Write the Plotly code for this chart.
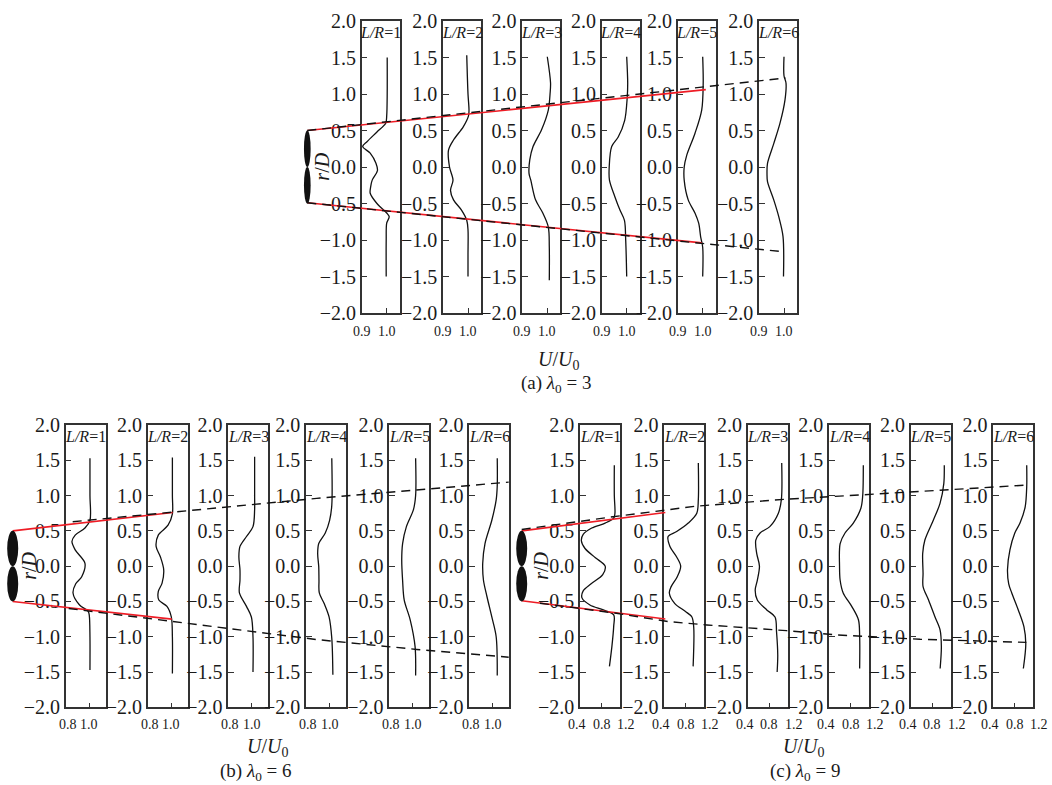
import plotly.graph_objects as go

# ---------------- data ----------------
LR_POSITIONS = [1, 2, 3, 4, 5, 6]
R_TICKS = [-2.0, -1.5, -1.0, -0.5, 0.0, 0.5, 1.0, 1.5, 2.0]
U_TICKS_A = [0.9, 1.0]
U_TICKS_B = [0.8, 1.0]
U_TICKS_C = [0.4, 0.8, 1.2]
TIP_SPEED_RATIO = [3, 6, 9]
ROTOR_TIP_R = 0.5

# (a) lambda0 = 3 : velocity profiles U/U0 vs r/D
a1_r = [1.5, 1.0, 0.7, 0.6, 0.48, 0.35, 0.28, 0.19, 0.05, -0.05, -0.18, -0.27, -0.36, -0.5, -0.63, -0.68, -0.77, -1.0, -1.5]
a1_u = [1.002, 1.002, 1.0, 0.996, 0.961, 0.922, 0.904, 0.934, 0.957, 0.963, 0.942, 0.936, 0.934, 0.961, 1.0, 1.010, 1.0, 0.998, 0.998]
a2_r = [1.53, 1.0, 0.78, 0.7, 0.55, 0.37, 0.23, 0.0, -0.18, -0.32, -0.45, -0.59, -0.73, -0.86, -1.2, -1.5]
a2_u = [0.995, 1.0, 1.004, 1.002, 0.981, 0.942, 0.922, 0.926, 0.940, 0.930, 0.942, 0.974, 0.995, 1.0, 1.0, 1.0]
a3_r = [1.51, 1.15, 1.0, 0.78, 0.51, 0.28, 0.1, -0.09, -0.18, -0.45, -0.63, -0.82, -1.1, -1.55]
a3_u = [1.0, 1.013, 1.011, 1.004, 0.977, 0.943, 0.930, 0.927, 0.934, 0.953, 0.982, 1.004, 1.008, 1.008]
a4_r = [1.51, 1.15, 0.95, 0.64, 0.41, 0.28, 0.0, -0.18, -0.41, -0.59, -0.73, -1.0, -1.5]
a4_u = [1.0, 1.004, 1.002, 0.992, 0.966, 0.940, 0.930, 0.931, 0.953, 0.973, 0.991, 0.996, 1.0]
a5_r = [1.51, 1.15, 0.78, 0.46, 0.16, 0.0, -0.18, -0.45, -0.63, -0.77, -0.96, -1.1, -1.5]
a5_u = [1.0, 1.002, 0.996, 0.969, 0.936, 0.926, 0.926, 0.942, 0.969, 0.984, 0.992, 1.0, 1.0]
a6_r = [1.51, 1.25, 1.15, 0.92, 0.6, 0.32, 0.05, -0.09, -0.2, -0.45, -0.68, -0.95, -1.5]
a6_u = [1.0, 1.0, 1.008, 1.004, 0.984, 0.959, 0.934, 0.932, 0.934, 0.959, 0.979, 0.996, 0.998]

# (b) lambda0 = 6
b1_r = [1.53, 1.0, 0.65, 0.54, 0.44, 0.35, 0.23, 0.04, -0.15, -0.25, -0.38, -0.55, -0.64, -0.7, -1.0, -1.47]
b1_u = [1.006, 1.006, 1.006, 0.96, 0.87, 0.84, 0.87, 0.96, 0.93, 0.875, 0.85, 0.91, 0.99, 1.0, 1.006, 1.006]
b2_r = [1.54, 1.0, 0.74, 0.58, 0.44, 0.28, 0.13, -0.05, -0.24, -0.36, -0.48, -0.57, -0.72, -1.0, -1.52]
b2_u = [1.01, 1.01, 1.01, 0.97, 0.88, 0.86, 0.9, 0.93, 0.915, 0.88, 0.885, 0.96, 1.0, 1.01, 1.01]
b3_r = [1.55, 1.0, 0.8, 0.56, 0.42, 0.28, 0.13, -0.05, -0.2, -0.38, -0.57, -0.72, -1.0, -1.5]
b3_u = [1.025, 1.025, 1.025, 1.01, 0.95, 0.89, 0.88, 0.89, 0.89, 0.885, 0.95, 0.995, 1.01, 1.01]
b4_r = [1.53, 0.86, 0.65, 0.47, 0.32, 0.18, -0.01, -0.2, -0.38, -0.53, -0.72, -1.02, -1.54]
b4_u = [1.02, 1.02, 1.0, 0.96, 0.9, 0.89, 0.9, 0.902, 0.905, 0.95, 0.995, 1.02, 1.03]
b5_r = [1.53, 1.0, 0.8, 0.56, 0.32, 0.09, -0.2, -0.48, -0.76, -1.14, -1.55]
b5_u = [1.025, 1.025, 1.005, 0.94, 0.905, 0.897, 0.905, 0.92, 0.975, 1.02, 1.025]
b6_r = [1.53, 1.14, 0.94, 0.65, 0.32, 0.04, -0.2, -0.43, -0.72, -1.0, -1.55]
b6_u = [1.04, 1.04, 1.03, 0.99, 0.927, 0.906, 0.913, 0.945, 0.99, 1.03, 1.04]

# (c) lambda0 = 9
c1_r = [1.43, 1.0, 0.75, 0.68, 0.61, 0.54, 0.45, 0.36, 0.25, 0.12, 0.0, -0.12, -0.25, -0.35, -0.45, -0.55, -0.62, -0.69, -0.85, -1.14, -1.42]
c1_u = [1.01, 1.01, 1.02, 1.0, 0.86, 0.64, 0.5, 0.47, 0.53, 0.70, 0.86, 0.82, 0.63, 0.5, 0.48, 0.61, 0.83, 1.0, 1.0, 0.97, 0.93]
c2_r = [1.46, 0.94, 0.75, 0.61, 0.49, 0.42, 0.28, 0.13, 0.0, -0.15, -0.29, -0.38, -0.53, -0.64, -0.72, -0.87, -1.42]
c2_u = [1.005, 1.005, 0.98, 0.84, 0.65, 0.51, 0.54, 0.65, 0.716, 0.66, 0.56, 0.53, 0.62, 0.79, 0.90, 0.93, 0.92]
c3_r = [1.46, 0.95, 0.75, 0.56, 0.47, 0.37, 0.18, 0.0, -0.2, -0.34, -0.48, -0.62, -0.72, -0.93, -1.26, -1.5]
c3_u = [1.005, 1.0, 0.95, 0.81, 0.65, 0.58, 0.595, 0.64, 0.605, 0.57, 0.605, 0.76, 0.895, 0.92, 0.94, 0.93]
c4_r = [1.43, 1.0, 0.82, 0.61, 0.47, 0.32, 0.0, -0.2, -0.38, -0.57, -0.76, -1.0, -1.45]
c4_u = [1.01, 1.0, 0.97, 0.846, 0.71, 0.63, 0.62, 0.63, 0.68, 0.82, 0.93, 0.95, 0.95]
c5_r = [1.43, 1.17, 0.89, 0.65, 0.37, 0.18, -0.1, -0.29, -0.48, -0.72, -0.9, -1.14, -1.45]
c5_u = [0.998, 0.99, 0.928, 0.818, 0.68, 0.644, 0.65, 0.65, 0.74, 0.846, 0.928, 0.95, 0.93]
c6_r = [1.43, 1.12, 0.84, 0.61, 0.47, 0.23, -0.05, -0.25, -0.38, -0.62, -0.86, -1.1, -1.45]
c6_u = [0.995, 0.995, 0.97, 0.885, 0.80, 0.72, 0.68, 0.70, 0.75, 0.857, 0.95, 0.98, 0.94]

# wake boundary lines: (L/R, r/D)
a_red_top_L = [0.0, 5.0];   a_red_top_r = [0.5, 1.06]
a_red_bot_L = [0.0, 4.95];  a_red_bot_r = [-0.49, -1.04]
a_dash_top_L = [0.0, 6.0];  a_dash_top_r = [0.5, 1.22]
a_dash_bot_L = [0.0, 5.96]; a_dash_bot_r = [-0.49, -1.16]

b_red_top_L = [0.0, 2.0];   b_red_top_r = [0.5, 0.76]
b_red_bot_L = [0.0, 1.99];  b_red_bot_r = [-0.5, -0.75]
b_dash_top_L = [0.75, 3.8, 6.2];  b_dash_top_r = [0.63, 0.96, 1.19]
b_dash_bot_L = [0.7, 2.2, 3.8, 5.05, 6.2]; b_dash_bot_r = [-0.6, -0.81, -1.04, -1.18, -1.29]

c_red_top_L = [0.0, 1.73];  c_red_top_r = [0.5, 0.76]
c_red_bot_L = [0.0, 1.73];  c_red_bot_r = [-0.49, -0.75]
c_dash_top_L = [0.0, 1.1, 2.1, 3.2, 4.1, 5.4, 6.1]
c_dash_top_r = [0.52, 0.70, 0.85, 0.95, 1.01, 1.10, 1.15]
c_dash_bot_L = [0.22, 1.14, 1.77, 2.23, 3.19, 3.8, 4.8, 6.08]
c_dash_bot_r = [-0.525, -0.668, -0.786, -0.833, -0.914, -0.975, -1.036, -1.08]

# ---------------- layout geometry (page pixels) ----------------
W, H = 1052, 785
FONT = "Liberation Serif"
INK = "#1a1a1a"
FRAME = "#333333"


def fx(px):
    return px / W


def fy(py):
    return 1 - py / H


GEOM = {
    "a": dict(lefts=[361.7, 443.0, 522.3, 601.7, 677.7, 759.0], width=38, top=21, bottom=313,
              urange=[0.9, 1.052], mid=1.0, tshift=-9, ov=(290, 810), x0=307.3, s=79.7, tw=0.042,
              rd_L=0.18, utitle=(558, 360), ptitle=(556, 384)),
    "b": dict(lefts=[65.7, 147.7, 228.3, 306.0, 389.3, 469.3], width=40, top=425, bottom=707.3,
              urange=[0.7825, 1.151], mid=1.0, tshift=-8, ov=(0, 520), x0=12.7, s=80.0, tw=0.069,
              rd_L=0.2, utitle=(267, 747), ptitle=(256, 772)),
    "c": dict(lefts=[580.0, 664.3, 747.7, 829.0, 910.7, 993.3], width=40, top=425, bottom=707.3,
              urange=[0.4475, 1.103], mid=0.8, tshift=-8, ov=(512, 1050), x0=521.7, s=83.0, tw=0.066,
              rd_L=0.24, utitle=(803, 747), ptitle=(805, 772)),
}

PANELS = [
    ("a", [(a1_u, a1_r), (a2_u, a2_r), (a3_u, a3_r), (a4_u, a4_r), (a5_u, a5_r), (a6_u, a6_r)], U_TICKS_A,
     [(a_red_top_L, a_red_top_r, "red"), (a_red_bot_L, a_red_bot_r, "red"),
      (a_dash_top_L, a_dash_top_r, "dash"), (a_dash_bot_L, a_dash_bot_r, "dash")]),
    ("b", [(b1_u, b1_r), (b2_u, b2_r), (b3_u, b3_r), (b4_u, b4_r), (b5_u, b5_r), (b6_u, b6_r)], U_TICKS_B,
     [(b_red_top_L, b_red_top_r, "red"), (b_red_bot_L, b_red_bot_r, "red"),
      (b_dash_top_L, b_dash_top_r, "dash"), (b_dash_bot_L, b_dash_bot_r, "dash")]),
    ("c", [(c1_u, c1_r), (c2_u, c2_r), (c3_u, c3_r), (c4_u, c4_r), (c5_u, c5_r), (c6_u, c6_r)], U_TICKS_C,
     [(c_red_top_L, c_red_top_r, "red"), (c_red_bot_L, c_red_bot_r, "red"),
      (c_dash_top_L, c_dash_top_r, "dash"), (c_dash_bot_L, c_dash_bot_r, "dash")]),
]


def sfx(i):
    return "" if i == 1 else str(i)


fig = go.Figure()
layout = {}
annotations = []
shapes = []

idx = 0
for p_i, (key, profiles, uticks, lines) in enumerate(PANELS):
    g = GEOM[key]
    ydom = [fy(g["bottom"]), fy(g["top"])]
    u0, u1 = g["urange"]
    for k, (u, r) in enumerate(profiles):
        idx += 1
        s = sfx(idx)
        left = g["lefts"][k]
        layout[f"xaxis{s}"] = dict(
            domain=[fx(left), fx(left + g["width"])], range=g["urange"], anchor=f"y{s}",
            showline=True, mirror=True, linecolor=FRAME, linewidth=1.5,
            ticks="inside", ticklen=5, tickwidth=1.2, tickcolor=FRAME,
            tickvals=[g["mid"]], showticklabels=False, showgrid=False, zeroline=False, fixedrange=True)
        layout[f"yaxis{s}"] = dict(
            domain=ydom, range=[-2, 2], anchor=f"x{s}",
            showline=True, mirror=True, linecolor=FRAME, linewidth=1.5,
            ticks="inside", ticklen=6, tickwidth=1.2, tickcolor=FRAME,
            tickvals=R_TICKS, tickformat=".1f", tickfont=dict(family=FONT, size=20, color=INK),
            showgrid=False, zeroline=False, fixedrange=True)
        fig.add_trace(go.Scatter(
            x=u, y=r, mode="lines", xaxis=f"x{s}", yaxis=f"y{s}",
            line=dict(color="#111111", width=1.3, shape="spline", smoothing=0.9),
            showlegend=False, hoverinfo="skip"))
        # U/U0 tick labels placed along the axis scale (edge labels may sit just past the frame)
        for t in uticks:
            annotations.append(dict(
                x=(t - u0) / (u1 - u0), y=0, xref=f"x{s} domain", yref=f"y{s} domain",
                text=f"{t:.1f}", showarrow=False, xanchor="center", yanchor="top", yshift=g["tshift"],
                font=dict(family=FONT, size=14, color=INK)))
        annotations.append(dict(
            x=0.5, y=1, xref=f"x{s} domain", yref=f"y{s} domain", xanchor="center", yanchor="top",
            yshift=-1, text=f"<i>L/R</i>={LR_POSITIONS[k]}", showarrow=False,
            font=dict(family=FONT, size=16, color=INK)))

    # overlay axis in (L/R, r/D) space for the wake boundary lines and rotor
    n = 19 + p_i
    ov0, ov1 = g["ov"]
    layout[f"xaxis{n}"] = dict(domain=[fx(ov0), fx(ov1)],
                               range=[(ov0 - g["x0"]) / g["s"], (ov1 - g["x0"]) / g["s"]],
                               anchor=f"y{n}", visible=False, fixedrange=True)
    layout[f"yaxis{n}"] = dict(domain=ydom, range=[-2, 2], anchor=f"x{n}", visible=False, fixedrange=True)
    for L, r, kind in lines:
        if kind == "red":
            ln = dict(color="#ee1c25", width=1.6)
        else:
            ln = dict(color="#111111", width=1.4, dash="9px,6px")
        fig.add_trace(go.Scatter(x=L, y=r, mode="lines", xaxis=f"x{n}", yaxis=f"y{n}",
                                 line=ln, showlegend=False, hoverinfo="skip"))
    for y0, y1 in [(0, ROTOR_TIP_R), (-ROTOR_TIP_R, 0)]:
        shapes.append(dict(type="circle", xref=f"x{n}", yref=f"y{n}",
                           x0=-g["tw"], x1=g["tw"], y0=y0, y1=y1,
                           fillcolor="#111111", line=dict(width=0)))
    annotations.append(dict(x=g["rd_L"], y=0, xref=f"x{n}", yref=f"y{n}", showarrow=False,
                            xanchor="center", yanchor="middle", textangle=-90, text="<i>r</i>/<i>D</i>",
                            font=dict(family=FONT, size=20, color=INK)))

    ux, uy = g["utitle"]
    annotations.append(dict(x=fx(ux), y=fy(uy), xref="paper", yref="paper", showarrow=False,
                            xanchor="center", yanchor="middle",
                            text="<i>U</i>/<i>U</i><sub>0</sub>", font=dict(family=FONT, size=20, color=INK)))
    px, py = g["ptitle"]
    annotations.append(dict(x=fx(px), y=fy(py), xref="paper", yref="paper", showarrow=False,
                            xanchor="center", yanchor="middle",
                            text=f"({key}) <i>λ</i><sub>0</sub> = {TIP_SPEED_RATIO[p_i]}",
                            font=dict(family=FONT, size=19, color=INK)))

fig.update_layout(
    width=W, height=H, margin=dict(l=0, r=0, t=0, b=0, pad=0, autoexpand=False),
    paper_bgcolor="white", plot_bgcolor="rgba(0,0,0,0)",
    font=dict(family=FONT, color=INK),
    annotations=annotations, shapes=shapes, showlegend=False,
    **layout)

# remove the default page margin so the figure fills the window exactly
fig.write_html("out.html", config={"displayModeBar": False},
               post_script="document.body.style.margin='0px';")
